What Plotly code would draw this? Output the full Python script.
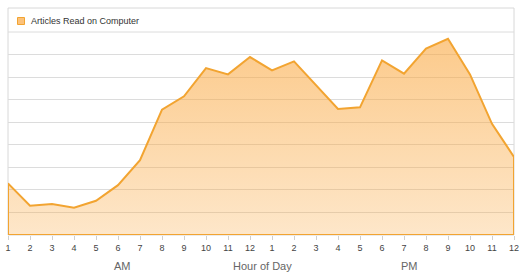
import plotly.graph_objects as go

hours = ["1", "2", "3", "4", "5", "6", "7", "8", "9", "10", "11", "12",
         "1", "2", "3", "4", "5", "6", "7", "8", "9", "10", "11", "12"]
articles = [229, 130, 137, 121, 152, 221, 332, 556, 615, 740, 712, 789,
            730, 770, 664, 559, 566, 774, 715, 826, 870, 712, 493, 346]
series_name = "Articles Read on Computer"

xs = list(range(len(hours)))
# closed outline built from the data (baseline at 0)
px = [xs[0]] + xs + [xs[-1], xs[0]]
py = [0] + articles + [0, 0]

LINE = "#f2a431"
fig = go.Figure()
fig.add_trace(go.Scatter(
    x=px, y=py, mode="lines", fill="toself", name=series_name,
    line=dict(color=LINE, width=2),
    fillgradient=dict(type="vertical", start=0, stop=900,
                      colorscale=[[0, "rgba(250,168,64,0.28)"], [1, "rgba(250,168,64,0.62)"]]),
    showlegend=False, hoverinfo="skip"))

W, Hh = 523, 278
L, R, T, B = 8, 9, 32, 43
PW, PH = W - L - R, Hh - T - B
band = 24 / PH

def fx(p):
    return (p - L) / PW

def fy(p):
    return (Hh - B - p) / PH

fig.add_shape(type="rect", xref="paper", yref="paper", x0=0, x1=1, y0=0, y1=1 + band,
              line=dict(color="#d8d8d8", width=1), layer="below")
fig.add_shape(type="line", xref="paper", yref="paper", x0=0, x1=1, y0=1, y1=1,
              line=dict(color="#dcdcdc", width=1), layer="below")
# legend marker + label
fig.add_shape(type="rect", xref="paper", yref="paper", x0=fx(17.5), x1=fx(24.5), y0=fy(24.5), y1=fy(17.5),
              line=dict(color=LINE, width=1), fillcolor="#fcc27a", layer="above")
fig.add_annotation(x=fx(29), y=fy(21), xref="paper", yref="paper", text=series_name,
                   showarrow=False, xanchor="left", yanchor="middle",
                   font=dict(size=9, color="#333"))

for txt, xv in [("AM", 5.2), ("Hour of Day", 11.57), ("PM", 18.25)]:
    fig.add_annotation(x=xv, y=-0.155, xref="x", yref="paper", text=txt, showarrow=False,
                       yanchor="middle", font=dict(size=11, color="#666"))

fig.update_layout(
    width=W, height=Hh,
    margin=dict(l=L, r=R, t=T, b=B, autoexpand=False),
    paper_bgcolor="white", plot_bgcolor="white",
    font=dict(family="Liberation Sans, Arial, sans-serif", color="#444"),
    xaxis=dict(range=[0, 23], tickmode="array", tickvals=xs, ticktext=hours,
               showgrid=False, zeroline=False, showline=False, automargin=False,
               ticks="outside", ticklen=4, tickcolor="#cfcfcf",
               tickfont=dict(size=9, color="#444")),
    yaxis=dict(range=[0, 900], dtick=100, showticklabels=False, showgrid=True, automargin=False,
               gridcolor="#dcdcdc", gridwidth=1, zeroline=False, showline=False),
)

fig.write_html("out.html")
